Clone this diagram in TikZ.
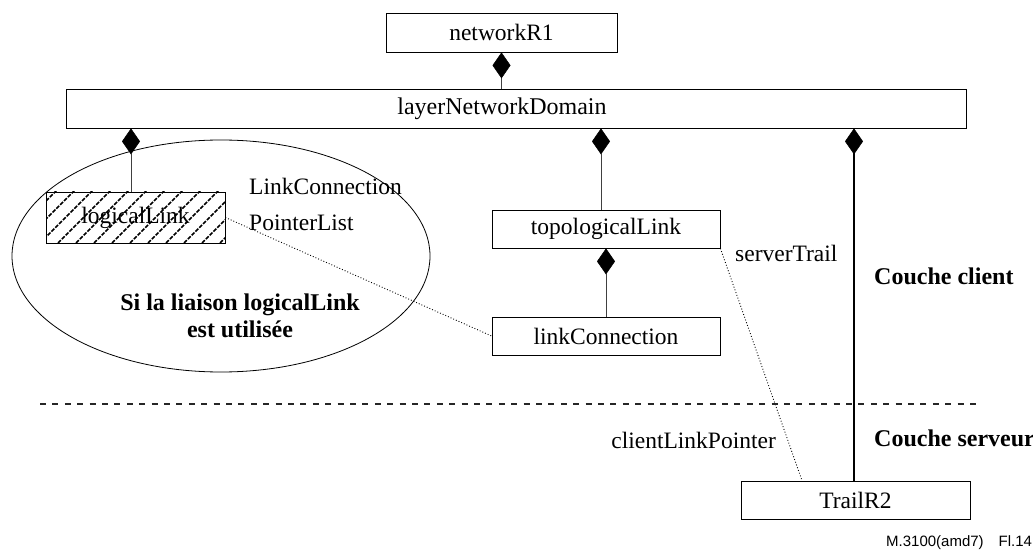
\documentclass[tikz,border=0pt]{standalone}
\usepackage{fontspec}
\setmainfont{Liberation Serif}
\newfontfamily\arialfont{Liberation Sans}
\usetikzlibrary{arrows.meta,shapes.geometric}
\begin{document}
\begin{tikzpicture}[x=1pt,y=-1pt,
  txt/.style={font=\fontsize{23.5}{36}\selectfont, inner sep=0pt},
  btxt/.style={font=\fontsize{24}{27}\selectfont\bfseries, inner sep=0pt},
  box/.style={draw, line width=0.8pt, inner sep=0pt, font=\fontsize{23.5}{28}\selectfont},
  dtip/.tip={Diamond[length=26pt,width=18pt,line width=0.5pt,color=black,fill=black]},
  comp/.style={dtip-, line width=0.8pt, draw=black!75},
  ptr/.style={dotted, line width=0.9pt},
  hatch/.style={path picture={
      \foreach \i in {-60,-42,...,200}
        \draw[line width=1.5pt, dash pattern=on 4pt off 1.4pt]
          ([xshift=\i pt]path picture bounding box.south west) -- ++(60,-60);}}
]
\useasboundingbox (0,0) rectangle (1033,553);

% ellipse
\node[ellipse, draw, line width=0.8pt, minimum width=418pt, minimum height=232pt, inner sep=0pt] (ell) at (221,256) {};

% boxes
\node[box, minimum width=231pt, minimum height=39pt] (net) at (501.5,32.5) {networkR1};
\node[box, minimum width=900pt, minimum height=39pt] (layer) at (516,108.5) {};
\node[txt, font=\fontsize{24}{28}\selectfont] (layertxt) at (502,108.5) {layerNetworkDomain};
\node[box, hatch, minimum width=179pt, minimum height=51pt] (logical) at (135.5,217.5) {logicalLink};
\node[box, minimum width=228pt, minimum height=38pt] (topo) at (606,229) {topologicalLink};
\node[box, minimum width=228pt, minimum height=38pt] (linkc) at (606,336) {linkConnection};
\node[box, minimum width=229pt, minimum height=38pt] (trail) at (855.5,500) {TrailR2};

% helper x positions
\coordinate (x1) at (131,0);
\coordinate (x2) at (601,0);
\coordinate (x3) at (854,0);
\coordinate (x4) at (802,0);
\coordinate (d1) at (40,404);
\coordinate (d2) at (978,404);

% composition connectors
\draw[comp] (net.south) -- (net.south |- layer.north);
\draw[comp] (layer.south -| x1) -- (logical.north -| x1);
\draw[comp] (layer.south -| x2) -- (topo.north -| x2);
\draw[comp] (topo.south) -- (linkc.north);
\draw[dtip-, line width=2.4pt] (layer.south -| x3) -- (trail.north -| x3);

% pointers
\draw[ptr] (logical.east) -- (linkc.west);
\draw[ptr] (topo.south east) -- (trail.north -| x4);

% layer separator
\draw[line width=1.8pt, dash pattern=on 6pt off 6.4pt, draw=black!85] (d1) -- (d2);

% labels
\node[txt, anchor=west, align=left] (lcp) at (249,204) {LinkConnection\\PointerList};
\node[txt, anchor=west] (st) at (735,253) {serverTrail};
\node[btxt, anchor=west] (cc) at (874,276) {Couche client};
\node[btxt, anchor=west] (cs) at (874,438) {Couche serveur};
\node[txt, anchor=east] (clp) at (776,440) {clientLinkPointer};
\node[btxt, align=center] (si) at (240,316) {Si la liaison logicalLink\\est utilisée};
\node[font=\arialfont\fontsize{15}{17}\selectfont, anchor=west, inner sep=0pt] (fig) at (886,543) {M.3100(amd7)\hspace{1em}Fl.14};
\end{tikzpicture}
\end{document}
